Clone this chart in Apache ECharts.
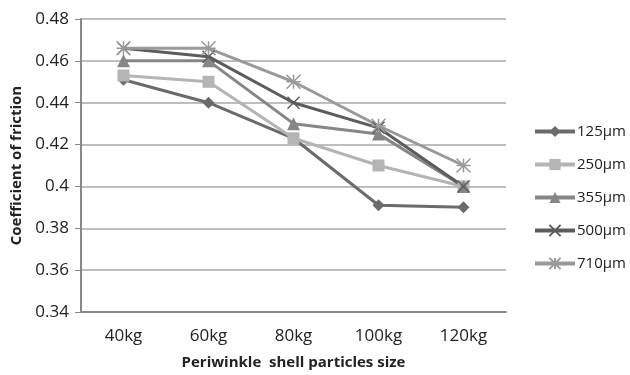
<!DOCTYPE html>
<html><head><meta charset="utf-8">
<script src="https://cdn.jsdelivr.net/npm/echarts@6/dist/echarts.min.js"></script>
<style>html,body{margin:0;padding:0;background:#fff}#c{width:630px;height:375px}</style>
</head><body><div id="c"></div>
<script>
const categories = ['40kg','60kg','80kg','100kg','120kg'];
const seriesNames = ['125µm','250µm','355µm','500µm','710µm'];
const s125 = [0.451, 0.440, 0.423, 0.391, 0.390];
const s250 = [0.453, 0.450, 0.423, 0.410, 0.400];
const s355 = [0.460, 0.460, 0.430, 0.425, 0.400];
const s500 = [0.466, 0.462, 0.440, 0.428, 0.400];
const s710 = [0.466, 0.466, 0.450, 0.429, 0.410];
const yTicks = [0.34,0.36,0.38,0.4,0.42,0.44,0.46,0.48];

const colors = ['#6b6b6b','#b4b4b4','#868686','#5c5c5c','#999999'];
const symbols = ['diamond','rect','triangle','path://M0,0L10,10M10,0L0,10','path://M0,0L10,10M10,0L0,10M5,0L5,10M0,5L10,5'];
const sizes = [12,12,13,12,14];
const data = [s125,s250,s355,s500,s710];

const chart = echarts.init(document.getElementById('c'));
chart.setOption({
  animation:false,
  textStyle:{fontFamily:'Open Sans'},
  grid:{left:81,right:124,top:19,bottom:62},
  legend:{orient:'vertical',left:533,top:124,padding:0,itemGap:18,itemWidth:40,itemHeight:14,
    lineStyle:{width:4},
    textStyle:{fontSize:15,color:'#222',padding:[0,0,0,-3]},data:seriesNames},
  xAxis:{type:'category',data:categories,boundaryGap:true,
    axisLine:{lineStyle:{color:'#888',width:2}},axisTick:{show:false},
    axisLabel:{fontSize:17,color:'#222',margin:16},
    name:'Periwinkle  shell particles size',nameLocation:'middle',nameGap:43,
    nameTextStyle:{fontSize:15,fontWeight:'bold',color:'#222'}},
  yAxis:{type:'value',min:0.34,max:0.48,interval:0.02,
    axisLine:{show:true,lineStyle:{color:'#888',width:2}},
    axisTick:{show:true,length:6,lineStyle:{color:'#888'}},
    splitLine:{lineStyle:{color:'#a8a8a8',width:1.5}},
    axisLabel:{fontSize:17,color:'#222',margin:12,formatter:v=>String(+v.toFixed(2))},
    name:'Coefficient of friction',nameLocation:'middle',nameGap:56,
    nameTextStyle:{fontSize:15,fontWeight:'bold',color:'#222'}},
  series:data.map((d,i)=>({
    name:seriesNames[i],type:'line',data:d,symbol:symbols[i],symbolSize:sizes[i],
    showAllSymbol:true,
    lineStyle:{color:colors[i],width:3},
    itemStyle:{color:colors[i],borderColor:colors[i],borderWidth:i>=3?1.5:0}
  }))
});
</script></body></html>
